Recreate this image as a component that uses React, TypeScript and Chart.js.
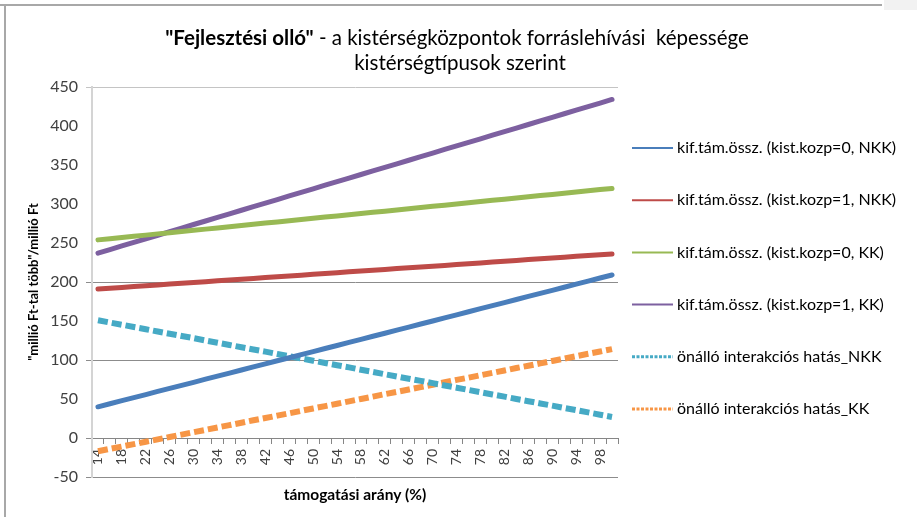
import React, { useEffect, useRef } from 'react';
import { Chart, registerables } from 'chart.js';

Chart.register(...registerables);

const xLabels = ['14', '16', '18', '20', '22', '24', '26', '28', '30', '32', '34', '36', '38', '40', '42', '44', '46', '48', '50', '52', '54', '56', '58', '60', '62', '64', '66', '68', '70', '72', '74', '76', '78', '80', '82', '84', '86', '88', '90', '92', '94', '96', '98', '100'];

const seriesNames = [
  'kif.tám.össz. (kist.kozp=0, NKK)',
  'kif.tám.össz. (kist.kozp=1, NKK)',
  'kif.tám.össz. (kist.kozp=0, KK)',
  'kif.tám.össz. (kist.kozp=1, KK)',
  'önálló interakciós hatás_NKK',
  'önálló interakciós hatás_KK',
];

const kozp0NKK = [40.0, 43.9, 47.9, 51.8, 55.7, 59.7, 63.6, 67.5, 71.4, 75.4, 79.3, 83.2, 87.2, 91.1, 95.0, 99.0, 102.9, 106.8, 110.7, 114.7, 118.6, 122.5, 126.5, 130.4, 134.3, 138.3, 142.2, 146.1, 150.0, 154.0, 157.9, 161.8, 165.8, 169.7, 173.6, 177.6, 181.5, 185.4, 189.3, 193.3, 197.2, 201.1, 205.1, 209.0];
const kozp1NKK = [191.0, 192.0, 193.1, 194.1, 195.2, 196.2, 197.3, 198.3, 199.4, 200.4, 201.5, 202.5, 203.6, 204.6, 205.7, 206.7, 207.7, 208.8, 209.8, 210.9, 211.9, 213.0, 214.0, 215.1, 216.1, 217.2, 218.2, 219.3, 220.3, 221.3, 222.4, 223.4, 224.5, 225.5, 226.6, 227.6, 228.7, 229.7, 230.8, 231.8, 232.9, 233.9, 235.0, 236.0];
const kozp0KK = [254.0, 255.5, 257.1, 258.6, 260.1, 261.7, 263.2, 264.7, 266.3, 267.8, 269.3, 270.9, 272.4, 273.9, 275.5, 277.0, 278.6, 280.1, 281.6, 283.2, 284.7, 286.2, 287.8, 289.3, 290.8, 292.4, 293.9, 295.4, 297.0, 298.5, 300.0, 301.6, 303.1, 304.7, 306.2, 307.7, 309.3, 310.8, 312.3, 313.9, 315.4, 316.9, 318.5, 320.0];
const kozp1KK = [237.0, 241.6, 246.2, 250.7, 255.3, 259.9, 264.5, 269.1, 273.7, 278.2, 282.8, 287.4, 292.0, 296.6, 301.1, 305.7, 310.3, 314.9, 319.5, 324.1, 328.6, 333.2, 337.8, 342.4, 347.0, 351.5, 356.1, 360.7, 365.3, 369.9, 374.5, 379.0, 383.6, 388.2, 392.8, 397.4, 401.9, 406.5, 411.1, 415.7, 420.3, 424.9, 429.4, 434.0];
const interNKK = [151.0, 148.1, 145.2, 142.3, 139.5, 136.5, 133.7, 130.8, 128.0, 125.0, 122.2, 119.3, 116.4, 113.5, 110.7, 107.7, 104.8, 102.0, 99.1, 96.2, 93.3, 90.5, 87.5, 84.7, 81.8, 78.9, 76.0, 73.2, 70.3, 67.3, 64.5, 61.6, 58.7, 55.8, 53.0, 50.0, 47.2, 44.3, 41.5, 38.5, 35.7, 32.8, 29.9, 27.0];
const interKK = [-17.0, -13.9, -10.9, -7.9, -4.8, -1.8, 1.3, 4.4, 7.4, 10.4, 13.5, 16.5, 19.6, 22.7, 25.6, 28.7, 31.7, 34.8, 37.9, 40.9, 43.9, 47.0, 50.0, 53.1, 56.2, 59.1, 62.2, 65.3, 68.3, 71.4, 74.5, 77.4, 80.5, 83.5, 86.6, 89.7, 92.6, 95.7, 98.8, 101.8, 104.9, 108.0, 110.9, 114.0];

const seriesColors = ['#4A7EBB', '#BE4B48', '#98B954', '#7D60A0', '#46AAC5', '#F79646'];
const gridValues = [450, 200, 100, 0, -50];

const FONT = 'Lato, "Open Sans", sans-serif';

const titlePlugin = {
  id: 'excelTitle',
  afterDraw(chart: any) {
    const ctx = chart.ctx;
    ctx.save();
    const boldPart = '"Fejlesztési olló"';
    const restPart = ' - a kistérségközpontok forráslehívási  képessége';
    ctx.font = `bold 20.5px ${FONT}`;
    const w1 = ctx.measureText(boldPart).width;
    ctx.font = `20.5px ${FONT}`;
    const w2 = ctx.measureText(restPart).width;
    const x0 = 457 - (w1 + w2) / 2;
    ctx.fillStyle = '#000';
    ctx.textBaseline = 'middle';
    ctx.textAlign = 'left';
    ctx.font = `bold 20.5px ${FONT}`;
    ctx.fillText(boldPart, x0, 38);
    ctx.font = `20.5px ${FONT}`;
    ctx.fillText(restPart, x0 + w1, 38);
    ctx.textAlign = 'center';
    ctx.fillText('kistérségtípusok szerint', 460, 63);
    ctx.restore();
  },
};

const legendPlugin = {
  id: 'excelLegend',
  afterDraw(chart: any) {
    const ctx = chart.ctx;
    const x0 = chart.chartArea.right + 14;
    chart.data.datasets.forEach((ds: any, i: number) => {
      const y = 148 + i * 52.2;
      ctx.save();
      const dashed = ds.borderDash && ds.borderDash.length > 0;
      ctx.strokeStyle = ds.borderColor;
      ctx.lineWidth = dashed ? 3 : 2;
      ctx.setLineDash(dashed ? [3, 1.5] : []);
      ctx.beginPath();
      ctx.moveTo(x0, y);
      ctx.lineTo(x0 + 41, y);
      ctx.stroke();
      ctx.setLineDash([]);
      ctx.fillStyle = '#000';
      ctx.font = `16px ${FONT}`;
      ctx.textBaseline = 'middle';
      ctx.textAlign = 'left';
      ctx.fillText(ds.label, x0 + 45, y);
      ctx.restore();
    });
  },
};

export default function App() {
  const canvasRef = useRef<HTMLCanvasElement | null>(null);

  useEffect(() => {
    const canvas = canvasRef.current;
    if (!canvas) return;
    const seriesData = [kozp0NKK, kozp1NKK, kozp0KK, kozp1KK, interNKK, interKK];
    const datasets = seriesData.map((d, i) => {
      const dashed = i >= 4;
      return {
        label: seriesNames[i],
        data: d,
        borderColor: seriesColors[i],
        backgroundColor: seriesColors[i],
        borderWidth: dashed ? 6 : 5,
        borderDash: dashed ? [10, 4] : [],
        borderCapStyle: dashed ? 'butt' : 'round',
        borderJoinStyle: 'round',
        pointRadius: 0,
        tension: 0,
        fill: false,
      };
    });
    const chart = new Chart(canvas, {
      type: 'line',
      data: { labels: xLabels, datasets: datasets as any },
      options: {
        responsive: false,
        animation: false,
        devicePixelRatio: 1,
        layout: { padding: { top: 87, right: 299, bottom: 40, left: 0 } },
        plugins: {
          legend: { display: false },
          title: { display: false },
          tooltip: { enabled: false },
        },
        scales: {
          x: {
            type: 'category',
            offset: true,
            position: { y: 0 } as any,
            grid: {
              offset: true,
              drawOnChartArea: false,
              drawTicks: true,
              tickLength: 5,
              color: '#868686',
            },
            border: { color: '#868686', width: 1 },
            ticks: {
              autoSkip: false,
              minRotation: 90,
              maxRotation: 90,
              padding: 6,
              color: '#404040',
              font: { family: FONT, size: 14 },
              callback: (_v: any, idx: number) => (idx % 2 === 0 ? xLabels[idx] : ''),
            },
            title: {
              display: true,
              text: 'támogatási arány (%)',
              color: '#000',
              font: { family: FONT, size: 15.5, weight: 'bold' },
              padding: { top: 14, bottom: 0 },
            },
          },
          y: {
            type: 'linear',
            min: -50,
            max: 450,
            afterFit: (scale: any) => {
              scale.width = 92;
            },
            ticks: {
              stepSize: 50,
              padding: 8,
              color: '#404040',
              font: { family: FONT, size: 16 },
            },
            grid: {
              color: (c: any) =>
                gridValues.includes(c.tick && c.tick.value)
                  ? c.tick.value === 450
                    ? '#c4c4c4'
                    : '#8c8c8c'
                  : 'rgba(0,0,0,0)',
              tickLength: 6,
              drawTicks: true,
            },
            border: { color: '#d4d4d4', width: 2 },
            title: {
              display: true,
              text: '"millió Ft-tal több"/millió Ft',
              color: '#000',
              font: { family: FONT, size: 13, weight: 'bold' },
              padding: { top: 26, bottom: 0 },
            },
          },
        },
      },
      plugins: [titlePlugin, legendPlugin],
    });
    return () => chart.destroy();
  }, []);

  return (
    <div style={{ position: 'fixed', left: 0, top: 0, width: 917, height: 517, background: '#fff', overflow: 'hidden' }}>
      <canvas ref={canvasRef} width={917} height={517} style={{ position: 'absolute', left: 0, top: 0 }} />
      <div style={{ position: 'absolute', left: 0, top: 4, width: 882, height: 2, background: '#a8a8a8' }} />
      <div style={{ position: 'absolute', left: 4, top: 4, width: 2, height: 513, background: '#a8a8a8' }} />
      <div style={{ position: 'absolute', left: 884, top: 0, width: 33, height: 10, background: '#f2f2f2' }} />
    </div>
  );
}
